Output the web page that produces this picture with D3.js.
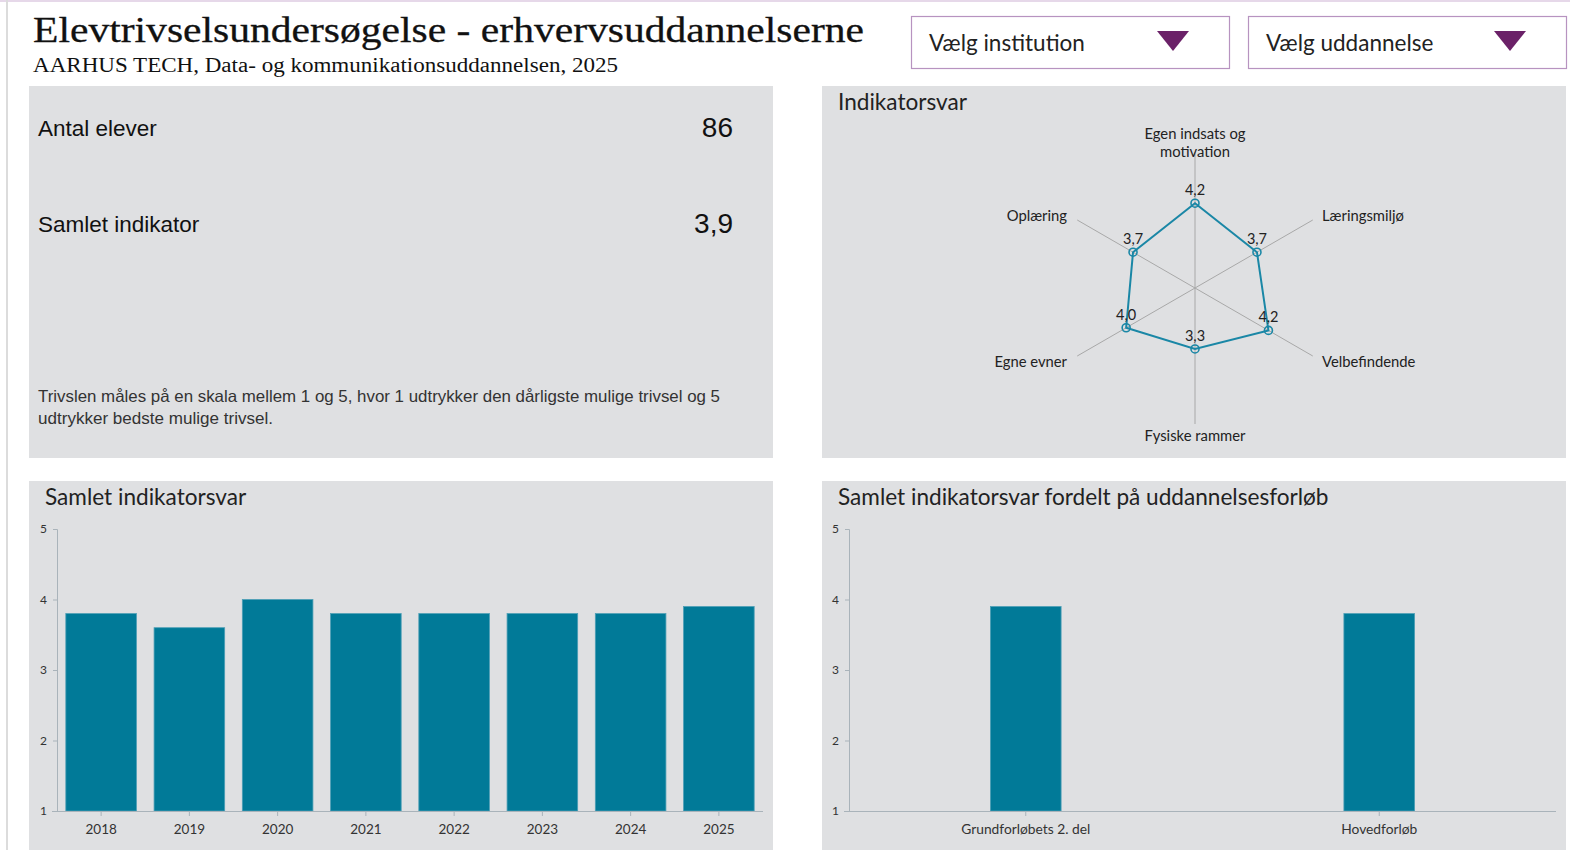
<!DOCTYPE html>
<html><head><meta charset="utf-8">
<script src="https://cdn.jsdelivr.net/npm/d3@7"></script>
<style>
html,body{margin:0;padding:0;background:#fff;overflow:hidden}
svg{display:block}
</style></head>
<body>
<svg id="c" width="1570" height="850"></svg>
<script>
// ---- data ----
const titleText = "Elevtrivselsundersøgelse - erhvervsuddannelserne";
const subtitleText = "AARHUS TECH, Data- og kommunikationsuddannelsen, 2025";
const dropdownLabels = ["Vælg institution", "Vælg uddannelse"];
const kpiLabels = ["Antal elever", "Samlet indikator"];
const kpiValues = ["86", "3,9"];
const noteLines = ["Trivslen måles på en skala mellem 1 og 5, hvor 1 udtrykker den dårligste mulige trivsel og 5",
                   "udtrykker bedste mulige trivsel."];
const radarAxes = ["Egen indsats og motivation", "Læringsmiljø", "Velbefindende", "Fysiske rammer", "Egne evner", "Oplæring"];
const radarValues = [4.2, 3.7, 4.2, 3.3, 4.0, 3.7];
const years = ["2018","2019","2020","2021","2022","2023","2024","2025"];
const yearValues = [3.8, 3.6, 4.0, 3.8, 3.8, 3.8, 3.8, 3.9];
const courses = ["Grundforløbets 2. del", "Hovedforløb"];
const courseValues = [3.9, 3.8];
const yTicks = [1, 2, 3, 4, 5];

const svg = d3.select("#c");
const panelBg = "#dfe0e2";
const teal = "#017a98";
const fmt = v => d3.format(".1f")(v).replace(".", ",");

// frame decorations
svg.append("rect").attr("x",0).attr("y",0).attr("width",1570).attr("height",2).attr("fill","#e6d8e9");
svg.append("rect").attr("x",6).attr("y",0).attr("width",2).attr("height",850).attr("fill","#dcdcdc");

// title
svg.append("text").attr("x",33).attr("y",42).text(titleText)
  .attr("font-family","Liberation Serif, serif").attr("font-size",36).attr("fill","#111")
  .attr("stroke","#111").attr("stroke-width",0.3)
  .attr("textLength",831).attr("lengthAdjust","spacingAndGlyphs");
svg.append("text").attr("x",33).attr("y",72).text(subtitleText)
  .attr("font-family","Liberation Serif, serif").attr("font-size",20.5).attr("fill","#111")
  .attr("textLength",585).attr("lengthAdjust","spacingAndGlyphs");

// dropdowns
const ddX = [911, 1248];
dropdownLabels.forEach((lab, i) => {
  const x0 = ddX[i];
  svg.append("rect").attr("x",x0+0.5).attr("y",16.5).attr("width",318).attr("height",52)
    .attr("fill","#fff").attr("stroke","#b793c0").attr("stroke-width",1.2);
  svg.append("text").attr("x",x0+18).attr("y",51).text(lab)
    .attr("font-family","Lato, sans-serif").attr("font-size",22.5).attr("fill","#222");
  const tx = x0 + 262;
  svg.append("path").attr("d",`M${tx-16},31L${tx+16},31L${tx},51Z`).attr("fill","#6b2168");
});

// panels
const panels = [[29,86,744,372],[822,86,744,372],[29,481,744,369],[822,481,744,369]];
panels.forEach(p => svg.append("rect").attr("x",p[0]).attr("y",p[1]).attr("width",p[2]).attr("height",p[3]).attr("fill",panelBg));

// KPI panel
const kpiY = [136, 232];
kpiLabels.forEach((lab, i) => {
  svg.append("text").attr("x",38).attr("y",kpiY[i]).text(lab)
    .attr("font-family","Liberation Sans, Arial, sans-serif").attr("font-size",22.5).attr("fill","#111");
  svg.append("text").attr("x",733).attr("y",kpiY[i]+1).attr("text-anchor","end").text(kpiValues[i])
    .attr("font-family","Liberation Sans, Arial, sans-serif").attr("font-size",28).attr("fill","#111");
});
const noteWidths = [682, 235];
noteLines.forEach((l, i) => {
  svg.append("text").attr("x",38).attr("y",402 + i*22).text(l)
    .attr("font-family","Liberation Sans, Arial, sans-serif").attr("font-size",16.5).attr("fill","#333")
    .attr("textLength",noteWidths[i]).attr("lengthAdjust","spacingAndGlyphs");
});

// panel titles
const ptitle = (x, y, t) => svg.append("text").attr("x",x).attr("y",y).text(t)
  .attr("font-family","Lato, sans-serif").attr("font-size",22.6).attr("fill","#222");
ptitle(838, 110, "Indikatorsvar");
ptitle(45, 505, "Samlet indikatorsvar");
ptitle(838, 505, "Samlet indikatorsvar fordelt på uddannelsesforløb");

// radar
const cx = 1195, cy = 288, axisLen = 136;
const rScale = d3.scaleLinear().domain([1, 5]).range([0, 106]);
const angle = i => i * Math.PI * 2 / radarAxes.length;
const pt = (i, r) => [cx + r * Math.sin(angle(i)), cy - r * Math.cos(angle(i))];
const rg = svg.append("g");
radarAxes.forEach((a, i) => {
  const [x2, y2] = pt(i, axisLen);
  rg.append("line").attr("x1",cx).attr("y1",cy).attr("x2",x2).attr("y2",y2)
    .attr("stroke","#a8a8a8").attr("stroke-width",1);
});
const labelPos = [
  {x:1195, y:139, anchor:"middle"},
  {x:1322, y:221, anchor:"start"},
  {x:1322, y:367, anchor:"start"},
  {x:1195, y:441, anchor:"middle"},
  {x:1067, y:367, anchor:"end"},
  {x:1067, y:221, anchor:"end"}
];
radarAxes.forEach((a, i) => {
  const lp = labelPos[i];
  const t = rg.append("text").attr("x",lp.x).attr("y",lp.y).attr("text-anchor",lp.anchor)
    .attr("font-family","Lato, sans-serif").attr("font-size",14.8).attr("fill","#222");
  if (i === 0) {
    t.append("tspan").attr("x",lp.x).attr("dy",0).text("Egen indsats og");
    t.append("tspan").attr("x",lp.x).attr("dy",18).text("motivation");
  } else t.text(a);
});
const line = d3.line().curve(d3.curveLinearClosed);
const pts = radarValues.map((v, i) => pt(i, rScale(v)));
rg.append("path").attr("d", line(pts)).attr("fill","none").attr("stroke","#1a87a6").attr("stroke-width",2);
pts.forEach((p, i) => {
  rg.append("circle").attr("cx",p[0]).attr("cy",p[1]).attr("r",4)
    .attr("fill","none").attr("stroke","#1a87a6").attr("stroke-width",1.6);
  rg.append("text").attr("x",p[0]).attr("y",p[1]-8).attr("text-anchor","middle").text(fmt(radarValues[i]))
    .attr("font-family","Lato, sans-serif").attr("font-size",14.5).attr("fill","#222");
});

// bar chart helper
function barChart(cats, vals, xr, yr, padIn, padOut, axisLeftX, tickFont) {
  const x = d3.scaleBand().domain(cats).range(xr).paddingInner(padIn).paddingOuter(padOut);
  const y = d3.scaleLinear().domain([1, 5]).range(yr);
  const g = svg.append("g");
  g.selectAll("rect.bar").data(vals).join("rect").attr("class","bar")
    .attr("x",(d,i)=>x(cats[i])).attr("width",x.bandwidth())
    .attr("y",d=>y(d)).attr("height",d=>y(1)-y(d))
    .attr("fill",teal).attr("stroke","#4d9fb6").attr("stroke-width",0.8);
  const ya = g.append("g").attr("transform",`translate(${axisLeftX},0)`)
    .call(d3.axisLeft(y).tickValues(yTicks).tickFormat(d3.format("d")).tickSize(4).tickPadding(6));
  const xa = g.append("g").attr("transform",`translate(0,${yr[0]})`)
    .call(d3.axisBottom(x).tickSize(5).tickPadding(8));
  xa.select(".domain").attr("d",`M${axisLeftX-5},0.5H${xr[1]}`);
  [ya, xa].forEach(a => {
    a.selectAll(".domain,line").attr("stroke","#a9b3ba");
    a.selectAll("text").attr("fill","#333").attr("font-family","Lato, sans-serif");
  });
  ya.selectAll("text").attr("font-size",12);
  xa.selectAll("text").attr("font-size",tickFont);
}
barChart(years, yearValues, [57, 763], [811, 529], 0.2, 0.1, 57, 13.5);
barChart(courses, courseValues, [849, 1556], [811, 529], 0.8, 0.4, 849, 13.8);
</script>
</body></html>
